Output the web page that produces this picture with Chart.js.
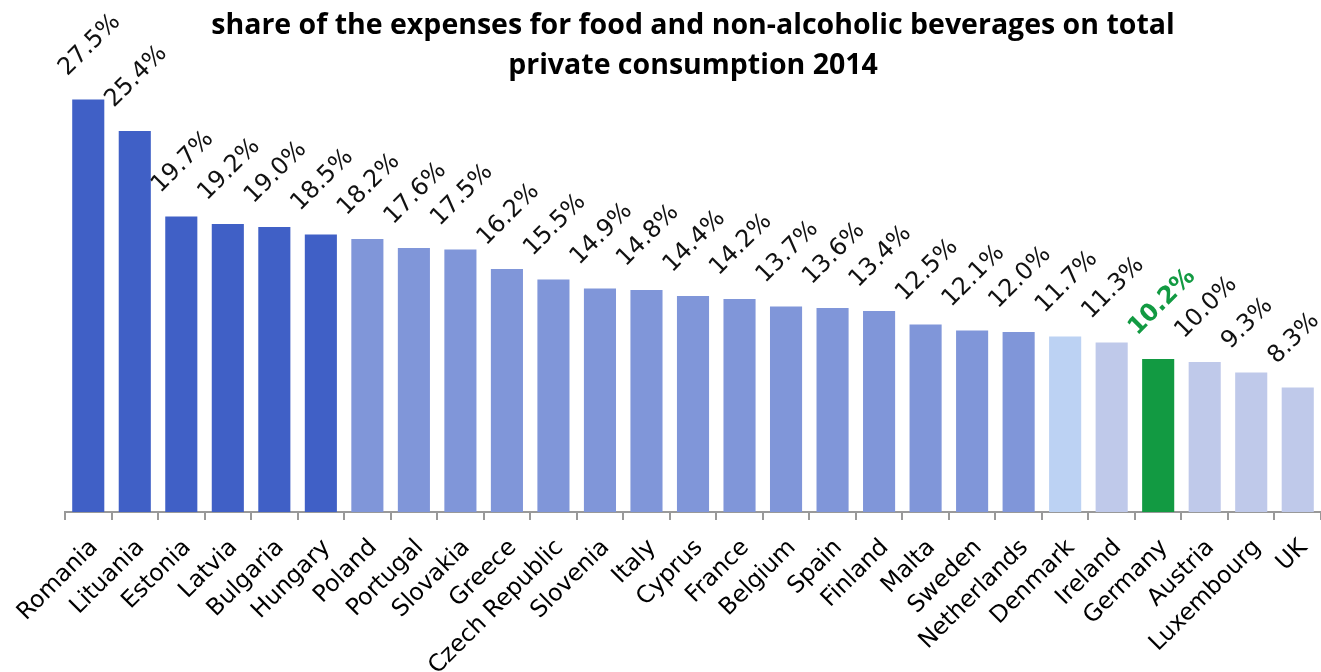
<!DOCTYPE html>
<html>
<head>
<meta charset="utf-8">
<script src="https://cdn.jsdelivr.net/npm/chart.js@4"></script>
<style>
  html, body { margin: 0; padding: 0; background: #fff; }
  #chart { display: block; }
</style>
</head>
<body>
<canvas id="chart" width="1321" height="672"></canvas>
<script>
// countries sorted by share, values in percent
const countries = ["Romania", "Lituania", "Estonia", "Latvia", "Bulgaria", "Hungary", "Poland", "Portugal",
  "Slovakia", "Greece", "Czech Republic", "Slovenia", "Italy", "Cyprus", "France", "Belgium", "Spain",
  "Finland", "Malta", "Sweden", "Netherlands", "Denmark", "Ireland", "Germany", "Austria", "Luxembourg", "UK"];
const shares = [27.5, 25.4, 19.7, 19.2, 19.0, 18.5, 18.2, 17.6, 17.5, 16.2, 15.5, 14.9, 14.8, 14.4, 14.2,
  13.7, 13.6, 13.4, 12.5, 12.1, 12.0, 11.7, 11.3, 10.2, 10.0, 9.3, 8.3];
const groups = ["high", "high", "high", "high", "high", "high", "mid", "mid", "mid", "mid", "mid", "mid", "mid",
  "mid", "mid", "mid", "mid", "mid", "mid", "mid", "mid", "dk", "low", "de", "low", "low", "low"];
const highlight = "Germany";

const palette = { high: "#4060c6", mid: "#8096d9", dk: "#bcd2f3", low: "#bfc9ea", de: "#129a42" };
const labelFont = "'DejaVu Sans', sans-serif";
const titleFont = "'Open Sans', 'Noto Sans', sans-serif";

// rotated percentage labels above each bar, plus the two-line heading
const barLabels = {
  id: "barLabels",
  afterDatasetsDraw(chart) {
    const ctx = chart.ctx;
    const meta = chart.getDatasetMeta(0);
    meta.data.forEach((bar, i) => {
      const isHi = countries[i] === highlight;
      ctx.save();
      ctx.translate(bar.x - 21, bar.y - 23);
      ctx.rotate(-Math.PI / 4);
      ctx.font = (isHi ? "bold " : "") + "24px " + labelFont;
      ctx.fillStyle = isHi ? "#129a42" : "#111";
      ctx.textAlign = "left";
      ctx.textBaseline = "alphabetic";
      ctx.fillText(shares[i].toFixed(1) + "%", 0, 0);
      ctx.restore();
    });
  },
  afterDraw(chart) {
    const ctx = chart.ctx;
    const cx = (chart.chartArea.left + chart.chartArea.right) / 2;
    ctx.save();
    ctx.font = "bold 28.5px " + titleFont;
    ctx.fillStyle = "#000";
    ctx.textAlign = "center";
    ctx.textBaseline = "alphabetic";
    ctx.fillText("share of the expenses for food and non-alcoholic beverages on total", cx, 34);
    ctx.fillText("private consumption 2014", cx, 74);
    ctx.restore();
  }
};

new Chart(document.getElementById("chart"), {
  type: "bar",
  data: {
    labels: countries,
    datasets: [{
      data: shares,
      backgroundColor: groups.map(g => palette[g]),
      categoryPercentage: 1,
      barPercentage: 0.69
    }]
  },
  options: {
    responsive: false,
    animation: false,
    layout: { padding: { top: 62, right: -2, left: 65, bottom: 0 } },
    plugins: {
      legend: { display: false },
      tooltip: { enabled: false }
    },
    scales: {
      y: { display: false, min: 0, max: 30 },
      x: {
        afterFit(scale) {
          scale.height = 160;
          scale.paddingLeft = 0;
          scale.paddingRight = 0;
        },
        grid: { offset: true, drawOnChartArea: false, tickLength: 8, color: "#999", lineWidth: 2 },
        border: { color: "#999", width: 2 },
        ticks: {
          color: "#000",
          font: { family: labelFont, size: 23.5 },
          minRotation: 45,
          maxRotation: 45,
          autoSkip: false,
          padding: 14,
          labelOffset: 6
        }
      }
    }
  },
  plugins: [barLabels]
});
</script>
</body>
</html>
